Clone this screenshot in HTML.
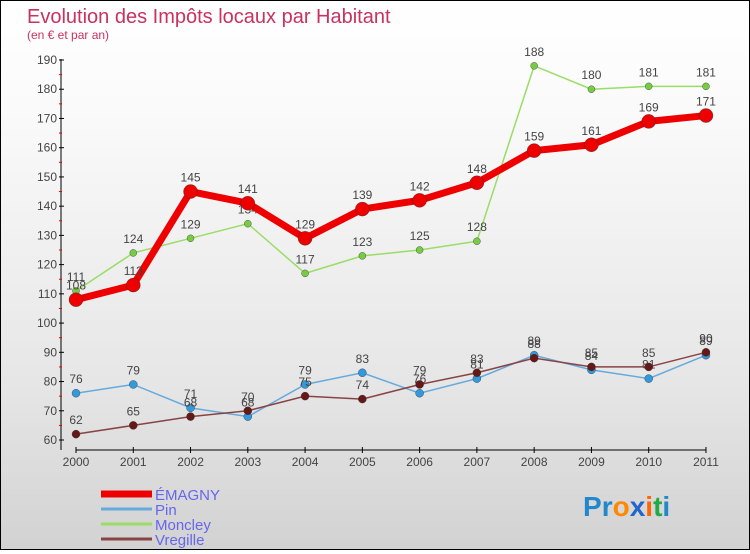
<!DOCTYPE html>
<html><head><meta charset="utf-8"><style>
html,body{margin:0;padding:0}
body{width:750px;height:550px;overflow:hidden;font-family:"Liberation Sans",sans-serif}
#wrap{position:relative;width:748px;height:548px;border:1px solid #000;background:linear-gradient(#fff,#fafafa 20%,#e6e6e6 70%,#d2d2d2)}
</style></head><body>
<div id="wrap">
<svg id="c" width="748" height="548"></svg>
</div>
<script>
const years=[2000,2001,2002,2003,2004,2005,2006,2007,2008,2009,2010,2011];
const emagny=[108,113,145,141,129,139,142,148,159,161,169,171];
const pin=[76,79,71,68,79,83,76,81,89,84,81,89];
const moncley=[111,124,129,134,117,123,125,128,188,180,181,181];
const vregille=[62,65,68,70,75,74,79,83,88,85,85,90];
const yTicks=[60,70,80,90,100,110,120,130,140,150,160,170,180,190];
const NS="http://www.w3.org/2000/svg";
const svg=document.getElementById('c');
const X=i=>75+i*57.27;
const Y=v=>439-(v-60)*2.923;
function mk(t,a,p){const e=document.createElementNS(NS,t);for(const k in a)e.setAttribute(k,a[k]);(p||svg).appendChild(e);return e;}
let t=mk('text',{x:26,y:22,'font-size':20,fill:'#c8325f'});t.textContent='Evolution des Impôts locaux par Habitant';


t=mk('text',{x:26,y:38,'font-size':12,fill:'#c8325f'});t.textContent='(en € et par an)';


const ax=mk('g',{});


mk('line',{x1:60,y1:58,x2:60,y2:449,stroke:'#000'},ax);
yTicks.forEach(v=>{mk('line',{x1:58,y1:Y(v),x2:63,y2:Y(v),stroke:'#000'},ax);
 if(v<190)mk('line',{x1:58,y1:Y(v+5),x2:61,y2:Y(v+5),stroke:'#e00'},ax);
 const l=mk('text',{x:56,y:Y(v)+4,'font-size':12,fill:'#444','text-anchor':'end'},ax);l.textContent=v;});
const xa=mk('g',{});


mk('line',{x1:75,y1:449,x2:X(11),y2:449,stroke:'#000'},xa);
years.forEach((y,i)=>{mk('line',{x1:X(i),y1:446,x2:X(i),y2:452,stroke:'#000'},xa);
 const l=mk('text',{x:X(i),y:465,'font-size':12,fill:'#444','text-anchor':'middle'},xa);l.textContent=y;});
function series(name,data,col,w,r,dot){
 const g=mk('g',{});
 
 
 mk('polyline',{points:data.map((v,i)=>X(i)+','+Y(v)).join(' '),fill:'none',stroke:col,'stroke-width':w},g);
 data.forEach((v,i)=>{const c=mk('circle',{cx:X(i),cy:Y(v),r:r,fill:dot,stroke:'#333','stroke-width':0.4},g);
  
  
  const l=mk('text',{x:X(i),y:Y(v)-10,'font-size':12,fill:'#444','text-anchor':'middle'},g);l.textContent=v;});
}
series('moncley',moncley,'#99dd66',1.5,3.5,'#77cc44');
series('pin',pin,'#66aadd',1.5,4,'#3399dd');
series('vregille',vregille,'#884444',1.5,4,'#661818');
series('emagny',emagny,'#ee0000',7,7,'#ee0000');
const lg=[['ÉMAGNY','#ee0000',7],['Pin','#66aadd',3],['Moncley','#99dd66',3],['Vregille','#884444',3]];
lg.forEach((d,i)=>{const g=mk('g',{});
 
 
 const y=493+i*15;mk('line',{x1:100,y1:y,x2:151,y2:y,stroke:d[1],'stroke-width':d[2]},g);
 const l=mk('text',{x:154,y:y+6,'font-size':15,fill:'#6666ee'},g);l.textContent=d[0];});
const lo=mk('text',{x:582,y:515,'font-size':28,'font-weight':'bold'});


[['P','#2288cc'],['r','#2288cc'],['o','#ff8800'],['x','#2266cc'],['i','#ff6600'],['t','#22aa44'],['i','#2288cc']].forEach(([c,f])=>{const s=mk('tspan',{fill:f},lo);s.textContent=c;});
</script>
</body></html>
